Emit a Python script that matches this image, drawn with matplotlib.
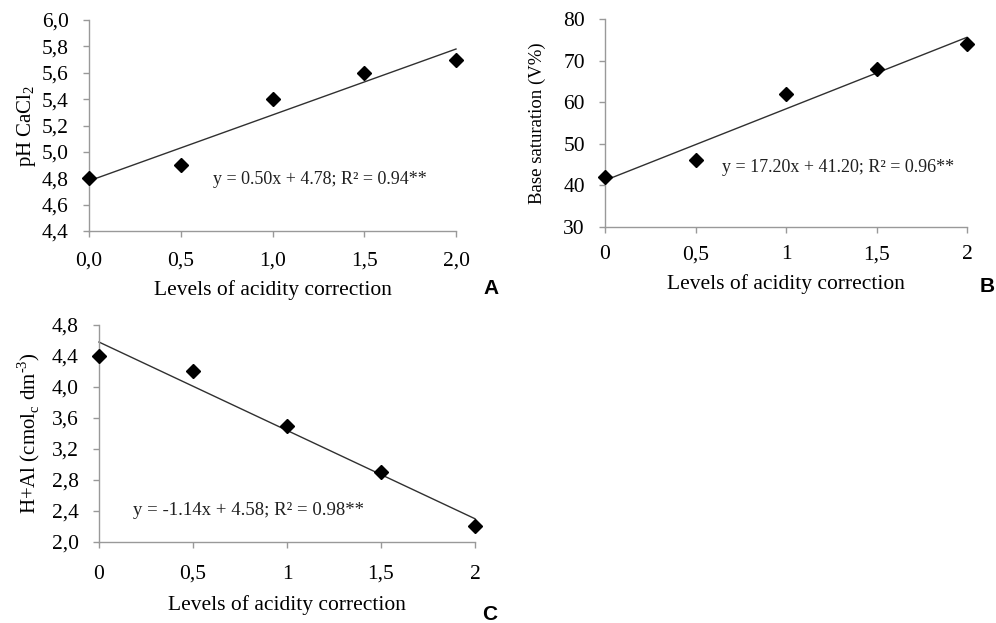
import numpy as np
import matplotlib.pyplot as plt

# niveaux de correction
levels = [0, 0.5, 1.0, 1.5, 2.0]
ph_cacl2 = [4.8, 4.9, 5.4, 5.6, 5.7]
base_sat = [42, 46, 62, 68, 74]
h_al = [4.4, 4.2, 3.5, 2.9, 2.2]

# coefficients des régressions (pente, ordonnée)
fit_a = (0.50, 4.78)
fit_b = (17.20, 41.20)
fit_c = (-1.14, 4.58)

eq_a = "y = 0.50x + 4.78; R² = 0.94**"
eq_b = "y = 17.20x + 41.20; R² = 0.96**"
eq_c = "y = -1.14x + 4.58; R² = 0.98**"

xlabels_a = ["0,0", "0,5", "1,0", "1,5", "2,0"]
xlabels_bc = ["0", "0,5", "1", "1,5", "2"]

plt.rcParams['font.family'] = ['Liberation Serif', 'DejaVu Serif']
plt.rcParams['mathtext.fontset'] = 'custom'
plt.rcParams['mathtext.rm'] = 'Liberation Serif'

W, H = 996, 623
fig = plt.figure(figsize=(W / 100, H / 100), dpi=100)


def make_ax(l, r, t, b):
    return fig.add_axes([l / W, 1 - b / H, (r - l) / W, (b - t) / H])


def style(ax, yticks, ylabels, xlabels, ylim, xpad, xlpad):
    ax.set_xlim(0, 2)
    ax.set_ylim(*ylim)
    ax.set_xticks(levels)
    ax.set_xticklabels(xlabels)
    ax.set_yticks(yticks)
    ax.set_yticklabels(ylabels)
    for s in ['top', 'right']:
        ax.spines[s].set_visible(False)
    for s in ['left', 'bottom']:
        ax.spines[s].set_color('#999999')
        ax.spines[s].set_linewidth(1)
    ax.tick_params(axis='both', colors='#999999', labelcolor='black',
                   labelsize=15.5, length=4.5, width=1)
    ax.tick_params(axis='x', pad=xpad)
    ax.tick_params(axis='y', pad=10)
    ax.set_xlabel("Levels of acidity correction", fontsize=15.5, labelpad=xlpad)
    ax.patch.set_alpha(0)


def draw(ax, y, fit):
    xs = np.array([0, 2])
    ax.plot(xs, fit[0] * xs + fit[1], color='#303030', lw=1, clip_on=False)
    ax.plot(levels, y, 'D', color='black', ms=7.5, clip_on=False, zorder=5)


# A
ax1 = make_ax(89, 456, 20, 231)
draw(ax1, ph_cacl2, fit_a)
yt = [4.4, 4.6, 4.8, 5.0, 5.2, 5.4, 5.6, 5.8, 6.0]
style(ax1, yt, [f"{v:.1f}".replace('.', ',') for v in yt], xlabels_a, (4.4, 6.0), 10, 7.5)
ax1.set_ylabel(r"pH CaCl$_\mathrm{2}$", fontsize=15, labelpad=3)
ax1.text(0.676, 4.79, eq_a, fontsize=13, color='#202020', va='center')

# B
ax2 = make_ax(605, 967, 19, 227)
draw(ax2, base_sat, fit_b)
yt = [30, 40, 50, 60, 70, 80]
style(ax2, yt, [str(v) for v in yt], xlabels_bc, (30, 80), 8.5, 7.5)
ax2.set_ylabel("Base saturation (V%)", fontsize=13.5, labelpad=12)
ax2.text(0.646, 44.4, eq_b, fontsize=13, color='#202020', va='center')

# C
ax3 = make_ax(99, 475, 325, 542)
draw(ax3, h_al, fit_c)
yt = [2.0, 2.4, 2.8, 3.2, 3.6, 4.0, 4.4, 4.8]
style(ax3, yt, [f"{v:.1f}".replace('.', ',') for v in yt], xlabels_bc, (2.0, 4.8), 12, 8)
ax3.set_ylabel(r"H+Al (cmol$_\mathrm{c}$ dm$^{\text{-3}}$)", fontsize=15, labelpad=7)
ax3.text(0.181, 2.41, eq_c, fontsize=13.5, color='#202020', va='center')

# lettres des panneaux
for lab, x, y in [("A", 491, 288), ("B", 987, 287), ("C", 490, 614)]:
    fig.text(x / W, 1 - y / H, lab, fontsize=15, fontweight='bold',
             family='Liberation Sans', ha='center', va='center')

plt.savefig("out.png", dpi=100)
